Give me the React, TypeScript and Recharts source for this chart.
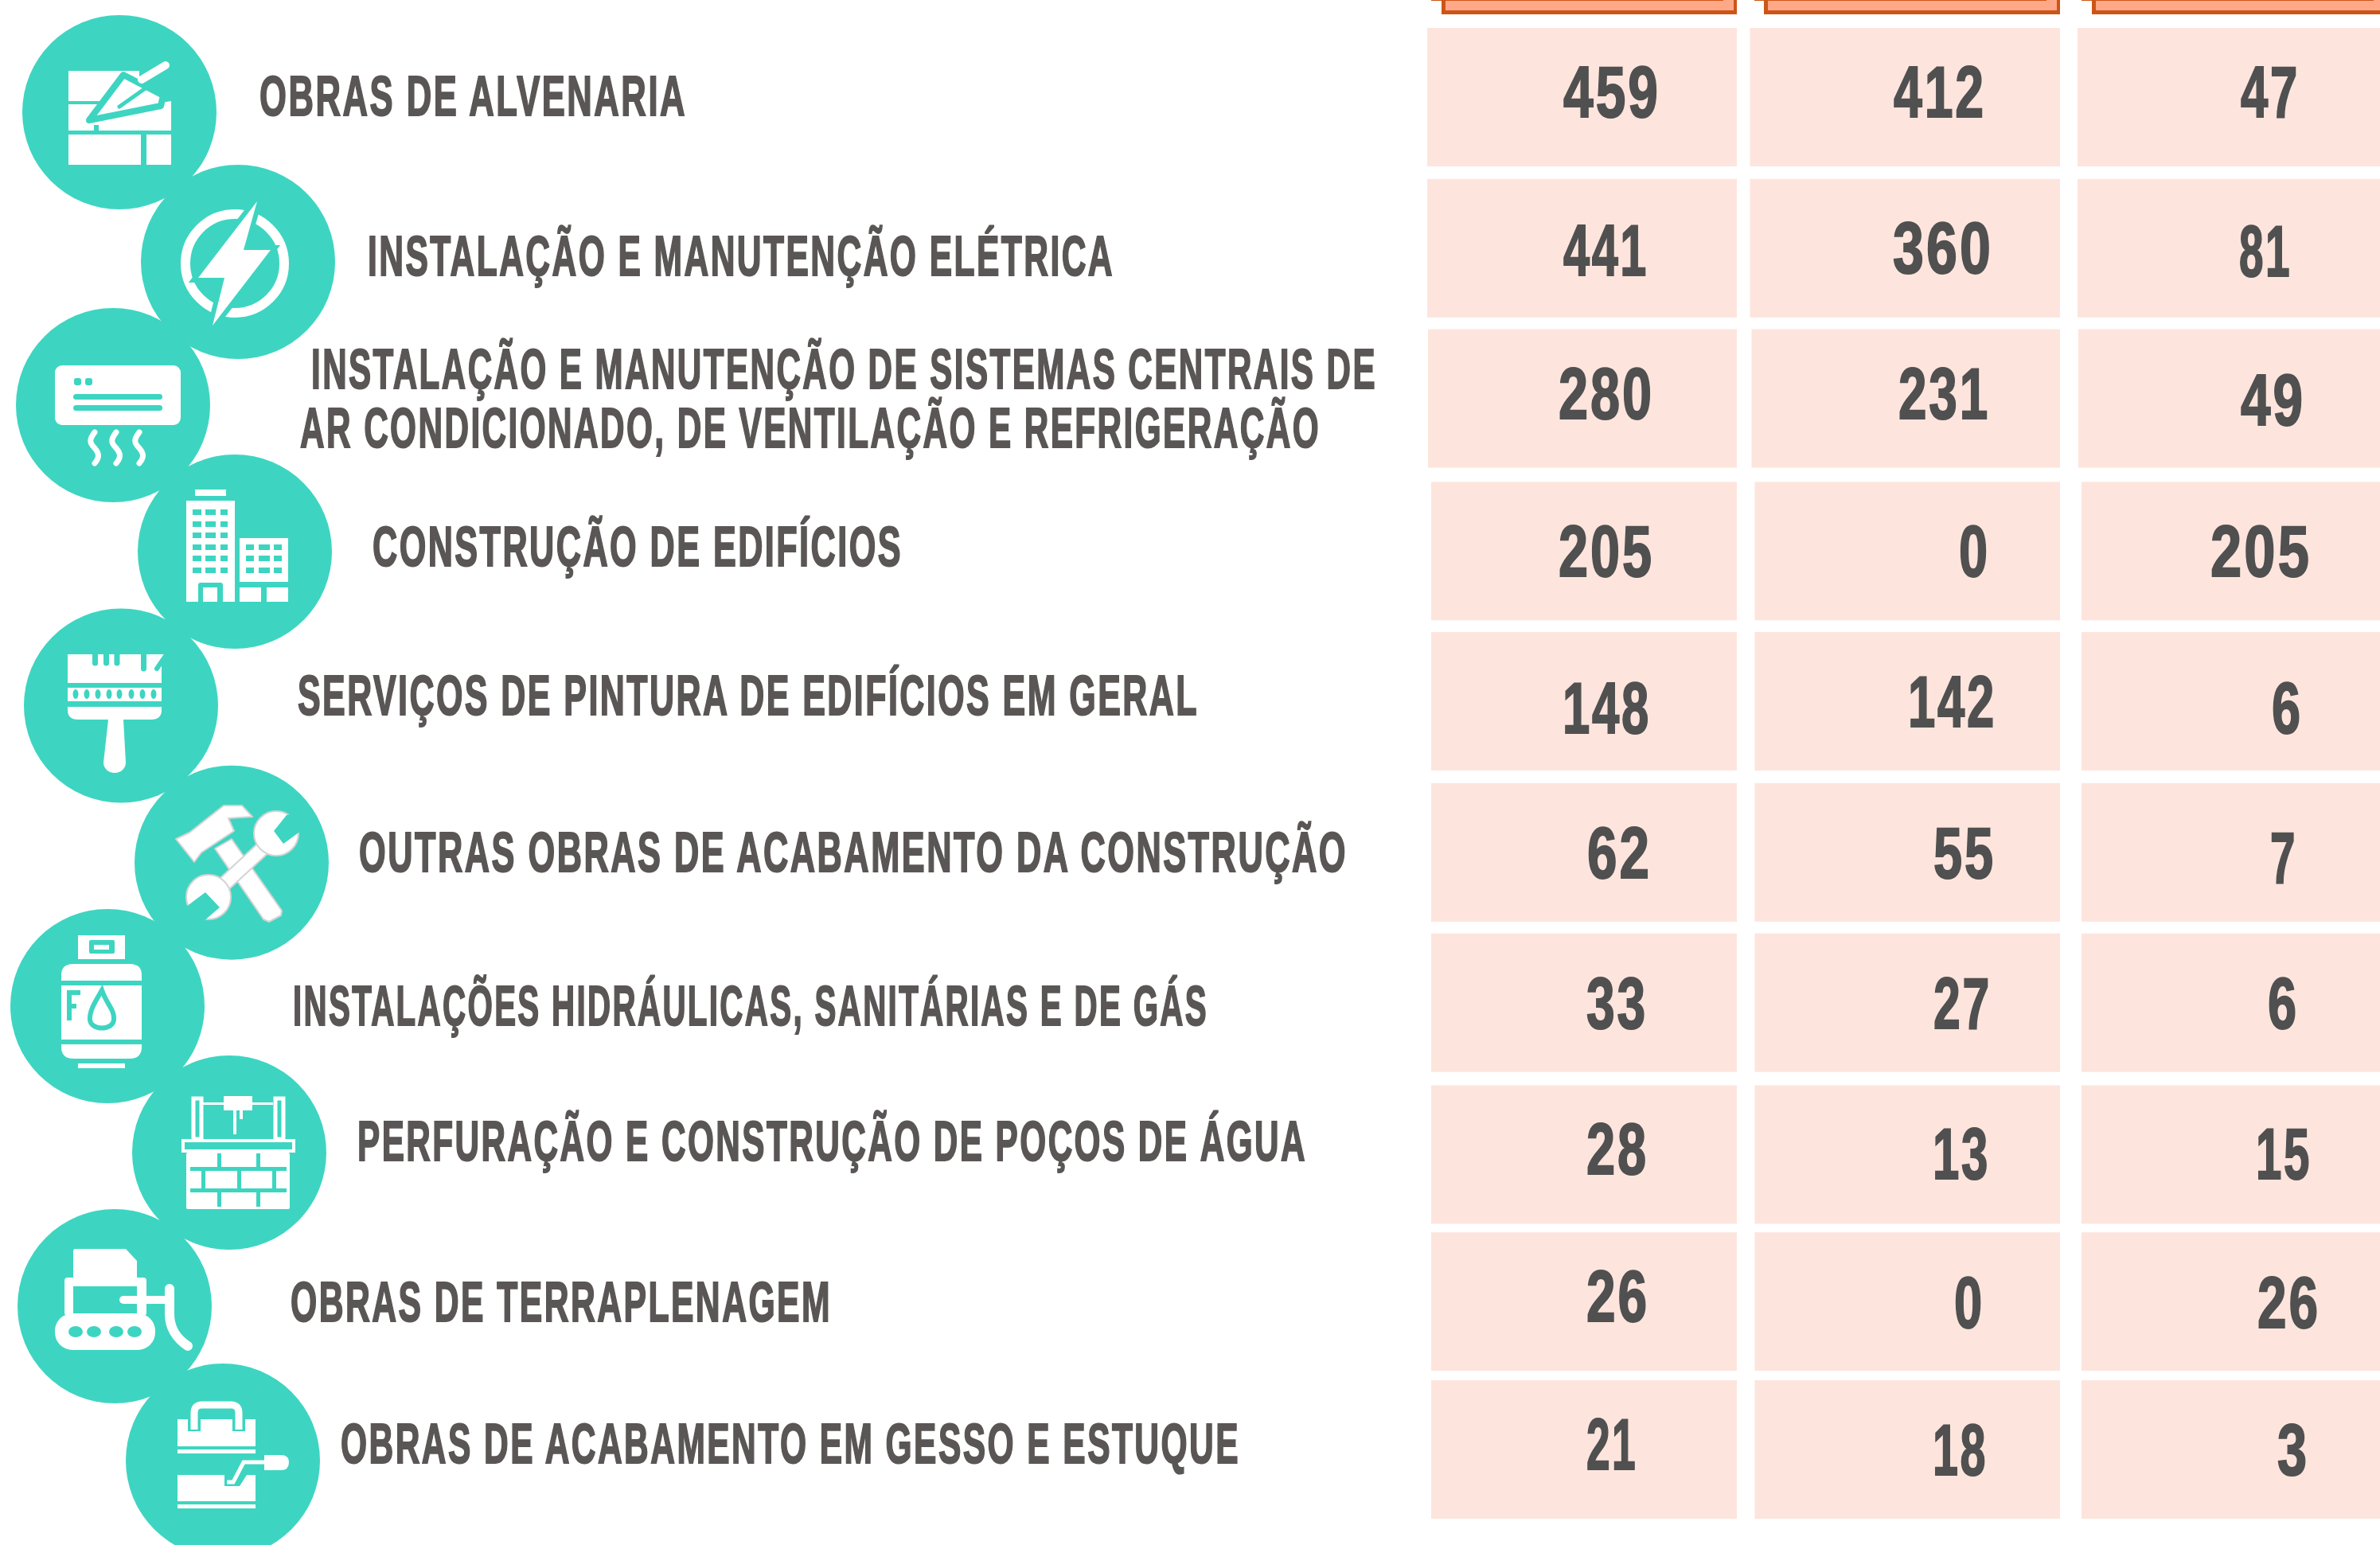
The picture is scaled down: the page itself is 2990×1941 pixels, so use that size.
import React from "react";
import { ScatterChart, Scatter, XAxis, YAxis } from "recharts";

const categories = [
  "OBRAS DE ALVENARIA",
  "INSTALAÇÃO E MANUTENÇÃO ELÉTRICA",
  "INSTALAÇÃO E MANUTENÇÃO DE SISTEMAS CENTRAIS DE\nAR CONDICIONADO, DE VENTILAÇÃO E REFRIGERAÇÃO",
  "CONSTRUÇÃO DE EDIFÍCIOS",
  "SERVIÇOS DE PINTURA DE EDIFÍCIOS EM GERAL",
  "OUTRAS OBRAS DE ACABAMENTO DA CONSTRUÇÃO",
  "INSTALAÇÕES HIDRÁULICAS, SANITÁRIAS E DE GÁS",
  "PERFURAÇÃO E CONSTRUÇÃO DE POÇOS DE ÁGUA",
  "OBRAS DE TERRAPLENAGEM",
  "OBRAS DE ACABAMENTO EM GESSO E ESTUQUE",
];
const totals = [459, 441, 280, 205, 148, 62, 33, 28, 26, 21];
const firstGroup = [412, 360, 231, 0, 142, 55, 27, 13, 0, 18];
const secondGroup = [47, 81, 49, 205, 6, 7, 6, 15, 26, 3];

const columns = [totals, firstGroup, secondGroup];

// layout only
const TEAL = "#3DD5C1";
const TEXT = "#5A5655";
const NUM = "#505050";
const CELL = "#FDE5DD";
const HEAD = "#FFA888";
const HEAD_DARK = "#CC5518";
const FONT = "'Liberation Sans Narrow', 'Liberation Sans', sans-serif";
const TRACKING = 4;

const rowShift = [0, 1, 1, 4, 4, 5, 5, 7, 3, 0];
const colShift = [0, -3, 0];
const cellIndent = [
  [-1, -1, -1],
  [-1, -1, -1],
  [0, 1, 0],
  [4, 5, 4],
  [4, 5, 4],
  [4, 5, 4],
  [4, 5, 4],
  [4, 5, 4],
  [4, 5, 4],
  [4, 5, 4],
];
const cellRight = [2182, 2588, 2995];

// left, right, baseline of each number
const numberBoxes = [
  [[1964, 2082, 147], [2379, 2491, 147], [2815, 2885, 147]],
  [[1964, 2067, 346], [2378, 2500, 343], [2813, 2875, 347]],
  [[1958, 2074, 526], [2385, 2496, 526], [2815, 2892, 534]],
  [[1958, 2074, 724], [2461, 2496, 724], [2777, 2900, 724]],
  [[1963, 2070, 921], [2397, 2504, 913], [2854, 2889, 921]],
  [[1994, 2071, 1103], [2429, 2503, 1103], [2852, 2882, 1109]],
  [[1993, 2066, 1292], [2429, 2498, 1292], [2849, 2884, 1292]],
  [[1993, 2067, 1475], [2428, 2496, 1481], [2834, 2900, 1481]],
  [[1993, 2068, 1660], [2455, 2489, 1668], [2836, 2911, 1668]],
  [[1993, 2053, 1846], [2428, 2493, 1853], [2861, 2897, 1853]],
];

// left, right, baseline of each label line
const labelBoxes = [
  [[326, 859, 145]],
  [[462, 1396, 346]],
  [[391, 1726, 488], [377, 1655, 562]],
  [[468, 1130, 711]],
  [[374, 1502, 898]],
  [[451, 1689, 1095]],
  [[368, 1514, 1288]],
  [[449, 1638, 1458]],
  [[365, 1041, 1660]],
  [[428, 1554, 1838]],
];

const headBoxes = [
  { left: 1811, right: 2182, lineLeft: 1798, lineRight: 2165 },
  { left: 2216, right: 2588, lineLeft: 2204, lineRight: 2571 },
  { left: 2628, right: 2995, lineLeft: 2615, lineRight: 2982 },
];

const cellData = categories.flatMap((_, row) =>
  columns.map((values, col) => ({ row, col, value: values[row] }))
);
const labelData = categories.map((name, row) => ({ row, col: 0, name }));
const headData = columns.map((_, col) => ({ row: 0, col }));

const W = "#FFFFFF";

const icons = [
  // bricks and trowel
  <g key="0">
    <circle cx={150} cy={141} r={122} fill={TEAL} />
    <rect x={86} y={89} width={89} height={38} fill={W} />
    <path d="M86 131 H190 L215 127 V164 H86 Z" fill={W} />
    <rect x={86} y={169} width={91} height={38} fill={W} />
    <rect x={184} y={169} width={31} height={38} fill={W} />
    <rect x={118} y={157} width={6} height={12} fill={TEAL} />
    <path d="M112 151 L155 94 L205 120 L202 133 Z" fill={W} stroke={TEAL} strokeWidth={8} strokeLinejoin="round" />
    <path d="M150 134 L184 110" stroke={TEAL} strokeWidth={5} strokeLinecap="round" />
    <path d="M178 100 L208 82" stroke={W} strokeWidth={10} strokeLinecap="round" />
  </g>,
  // bolt
  <g key="1">
    <circle cx={299} cy={329} r={122} fill={TEAL} />
    <circle cx={295} cy={331} r={62} fill="none" stroke={W} strokeWidth={12} />
    <path d="M323 253 L306 314 L340 314 L267 409 L282 349 L249 349 Z" fill={W} stroke={TEAL} strokeWidth={12} strokeLinejoin="miter" style={{ paintOrder: "stroke" }} />
  </g>,
  // air conditioner
  <g key="2">
    <circle cx={142} cy={509} r={122} fill={TEAL} />
    <rect x={69} y={459} width={158} height={75} rx={9} fill={W} />
    <rect x={93} y={475} width={9} height={9} rx={3} fill={TEAL} />
    <rect x={107} y={475} width={9} height={9} rx={3} fill={TEAL} />
    <rect x={92} y={495} width={112} height={7} rx={3.5} fill={TEAL} />
    <rect x={92} y={509} width={112} height={7} rx={3.5} fill={TEAL} />
    {[119, 146, 175].map((x) => (
      <path key={x} d={`M${x} 543 C${x - 7} 552 ${x - 7} 556 ${x} 563 C${x + 6} 570 ${x + 6} 575 ${x} 582`} fill="none" stroke={W} strokeWidth={7} strokeLinecap="round" />
    ))}
  </g>,
  // buildings
  <g key="3">
    <circle cx={295} cy={693} r={122} fill={TEAL} />
    <rect x={245} y={615} width={39} height={8} fill={W} />
    <rect x={234} y={629} width={61} height={127} fill={W} />
    <rect x={301} y={676} width={61} height={55} fill={W} />
    <rect x={301} y={738} width={27} height={18} fill={W} />
    <rect x={335} y={738} width={27} height={18} fill={W} />
    {[640, 655, 669, 684, 698, 713].flatMap((y) =>
      [[242, 11], [258, 13], [277, 9]].map(([x, w]) => (
        <rect key={`${x}-${y}`} x={x} y={y} width={w} height={7} fill={TEAL} />
      ))
    )}
    {[684, 698, 713].flatMap((y) =>
      [[309, 10], [325, 14], [344, 10]].map(([x, w]) => (
        <rect key={`${x}-${y}`} x={x} y={y} width={w} height={7} fill={TEAL} />
      ))
    )}
    <path d="M249 756 V735 Q249 732 252 732 H277 Q280 732 280 735 V756 Z" fill={TEAL} />
    <rect x={255} y={738} width={18} height={18} fill={W} />
  </g>,
  // brush
  <g key="4">
    <circle cx={152} cy={886.5} r={122} fill={TEAL} />
    <path d="M85 822 H210 L203 832 V858 H85 Z" fill={W} />
    {[116, 130, 143.5].map((x) => (
      <path key={x} d={`M${x + 3.5} 820 V833`} stroke={TEAL} strokeWidth={7} strokeLinecap="round" />
    ))}
    <path d="M180.5 820 V840" stroke={TEAL} strokeWidth={7} strokeLinecap="round" />
    <path d="M208 824 L197 840" stroke={TEAL} strokeWidth={6} strokeLinecap="round" />
    <rect x={85} y={864} width={118} height={17} fill={W} />
    {[95, 109, 123, 137, 150, 165, 179, 193].map((x) => (
      <ellipse key={x} cx={x} cy={872} rx={3.5} ry={6} fill={TEAL} />
    ))}
    <path d="M85 888 H203 V892 Q203 904 190 904 H98 Q85 904 85 892 Z" fill={W} />
    <path d="M136 904 H155 L158 958 A14 13 0 0 1 130 958 Z" fill={W} />
  </g>,
  // hammer and wrench
  <g key="5">
    <circle cx={291} cy={1083.7} r={122} fill={TEAL} />
    <g stroke="#D4D4D4" strokeWidth={2} fill={W} strokeLinejoin="round">
      <path d="M270 1066 L291 1054 L354 1144 L353 1150 L338 1158 L331 1155 Z" />
      <path d="M221 1054 L238 1046 L281 1012 L304 1012 L317 1026 L287 1028 L294 1044 L253 1071 L244 1083 Z" />
    </g>
    <path d="M345 1052 L265 1126" stroke="#D4D4D4" strokeWidth={20} />
    <path d="M345 1052 L265 1126" stroke={W} strokeWidth={16} />
    <circle cx={347} cy={1047} r={28} fill={W} stroke="#D4D4D4" strokeWidth={2} />
    <path d="M344 1044 L360 1024 L378 1020 L378 1044 L356 1060 Z" fill={TEAL} />
    <circle cx={262} cy={1127} r={28} fill={W} stroke="#D4D4D4" strokeWidth={2} />
    <path d="M258 1121 L234 1139 L240 1160 L255 1158 L276 1140 Z" fill={TEAL} />
  </g>,
  // gas cylinder
  <g key="6">
    <circle cx={135} cy={1264} r={122} fill={TEAL} />
    <rect x={98} y={1175} width={59} height={30} fill={W} />
    <rect x={112} y={1181} width={32} height={17} rx={2} fill={TEAL} />
    <rect x={118} y={1187} width={19} height={6} fill={W} />
    <path d="M77 1232 V1225 Q77 1211 92 1211 H163 Q178 1211 178 1225 V1232 Z" fill={W} />
    <rect x={77} y={1238} width={101} height={68} fill={W} />
    <path d="M77 1312 H178 V1315 Q178 1330 163 1330 H92 Q77 1330 77 1315 Z" fill={W} />
    <rect x={98} y={1336} width={59} height={6} fill={W} />
    <path d="M87 1282 V1247 H101 M87 1264 H96" fill="none" stroke={TEAL} strokeWidth={6} />
    <path d="M128 1244 C120 1258 112 1270 113 1281 C114 1295 142 1295 143 1281 C144 1268 134 1262 128 1244 Z" fill="none" stroke={TEAL} strokeWidth={6} />
  </g>,
  // well
  <g key="7">
    <circle cx={288} cy={1448} r={122} fill={TEAL} />
    <rect x={243} y={1380} width={10} height={51} fill="none" stroke={W} strokeWidth={5} />
    <rect x={346} y={1380} width={10} height={51} fill="none" stroke={W} strokeWidth={5} />
    <rect x={255} y={1385} width={88} height={3} fill={W} />
    <rect x={281} y={1377} width={36} height={18} fill={W} />
    <rect x={293} y={1395} width={4} height={30} fill={W} />
    <rect x={301} y={1395} width={4} height={11} fill={W} />
    <rect x={230} y={1433} width={139} height={13} fill="none" stroke={W} strokeWidth={4} />
    <rect x={234} y={1448} width={130} height={71} rx={2} fill={W} />
    <rect x={239} y={1466} width={121} height={5} fill={TEAL} />
    <rect x={239} y={1493} width={121} height={5} fill={TEAL} />
    {[273, 322].map((x) => (
      <g key={x}>
        <rect x={x} y={1449} width={5} height={17} fill={TEAL} />
        <rect x={x} y={1498} width={5} height={18} fill={TEAL} />
      </g>
    ))}
    {[253, 298, 342].map((x) => (
      <rect key={x} x={x} y={1471} width={5} height={22} fill={TEAL} />
    ))}
  </g>,
  // excavator
  <g key="8">
    <circle cx={144} cy={1641} r={122} fill={TEAL} />
    <path d="M92 1605 V1572 Q92 1569 95 1569 H158 L172 1584 V1605 Z" fill={W} />
    <rect x={81} y={1605} width={103} height={48} rx={4} fill={W} />
    <rect x={92} y={1616} width={80} height={34} fill={TEAL} />
    <rect x={69} y={1650} width={126} height={46} rx={22} fill={W} />
    {[95, 118, 146, 169].map((x) => (
      <ellipse key={x} cx={x} cy={1673} rx={9} ry={7} fill={TEAL} />
    ))}
    <path d="M155 1633 H210" stroke={W} strokeWidth={10} strokeLinecap="round" />
    <path d="M213 1619 V1651 C213 1668 222 1682 236 1691" fill="none" stroke={W} strokeWidth={12} strokeLinecap="round" />
  </g>,
  // plaster bucket and float
  <g key="9">
    <circle cx={280} cy={1835} r={122} fill={TEAL} />
    <rect x={223} y={1783} width={98} height={34} fill={W} />
    <path d="M244 1798 V1775 Q244 1765 254 1765 H290 Q300 1765 300 1775 V1798" fill="none" stroke={TEAL} strokeWidth={16} />
    <path d="M244 1796 V1775 Q244 1765 254 1765 H290 Q300 1765 300 1775 V1796" fill="none" stroke={W} strokeWidth={9} />
    <rect x={223} y={1821} width={98} height={5} fill={W} />
    <path d="M223 1853 H282 V1867 H301 L310 1853 H321 V1886 H223 Z" fill={W} />
    <rect x={223} y={1890} width={98} height={5} fill={W} />
    <path d="M332 1828 H353 Q363 1828 363 1837 Q363 1847 353 1847 H332 Z" fill={W} />
    <path d="M332 1837 H306 L293 1862 H285" fill="none" stroke={W} strokeWidth={5} />
  </g>,
];

const CellMark = (props: any) => {
  const { cx, cy, payload } = props;
  const { row, col, value } = payload;
  const center = cy + rowShift[row];
  const left = cx + colShift[col] + cellIndent[row][col];
  const [textLeft, textRight, baseline] = numberBoxes[row][col];
  return (
    <g>
      <rect x={left} y={center - 87} width={cellRight[col] - left} height={174} fill={CELL} />
      <text
        x={textLeft}
        y={baseline}
        textLength={textRight - textLeft + TRACKING}
        lengthAdjust="spacingAndGlyphs"
        fontFamily={FONT}
        fontWeight={700}
        fontSize={91}
        letterSpacing={TRACKING}
        fill={NUM}
        stroke={NUM}
        strokeWidth={2}
      >
        {value}
      </text>
    </g>
  );
};

const LabelMark = (props: any) => {
  const { row, name } = props.payload;
  return (
    <g>
      {icons[row]}
      {String(name)
        .split("\n")
        .map((line: string, i: number) => {
          const [left, right, baseline] = labelBoxes[row][i];
          return (
            <text
              key={i}
              x={left}
              y={baseline}
              textLength={right - left + TRACKING}
              lengthAdjust="spacingAndGlyphs"
              fontFamily={FONT}
              fontWeight={700}
              fontSize={70}
              letterSpacing={TRACKING}
              fill={TEXT}
              stroke={TEXT}
              strokeWidth={2}
            >
              {line}
            </text>
          );
        })}
    </g>
  );
};

const HeadMark = (props: any) => {
  const box = headBoxes[props.payload.col];
  return (
    <g>
      <rect x={box.left} y={-4} width={box.right - box.left} height={22} fill={HEAD_DARK} />
      <rect x={box.left + 5} y={-4} width={box.right - box.left - 9} height={17} fill={HEAD} />
      <rect x={box.lineLeft} y={0} width={box.lineRight - box.lineLeft} height={1} fill={HEAD_DARK} />
    </g>
  );
};

const App = () => {
  return (
    <div style={{ position: "absolute", left: 0, top: 0, width: 2990, height: 1941, overflow: "hidden", background: "#fff" }}>
      <ScatterChart width={2990} height={1941} margin={{ top: 122, right: 379, bottom: 120, left: 1794 }}>
        <XAxis type="number" dataKey="col" domain={[0, 2]} hide />
        <YAxis type="number" dataKey="row" domain={[0, 9]} reversed hide />
        <Scatter data={headData} shape={HeadMark} isAnimationActive={false} />
        <Scatter data={cellData} shape={CellMark} isAnimationActive={false} />
        <Scatter data={labelData} shape={LabelMark} isAnimationActive={false} />
      </ScatterChart>
    </div>
  );
};

export default App;
